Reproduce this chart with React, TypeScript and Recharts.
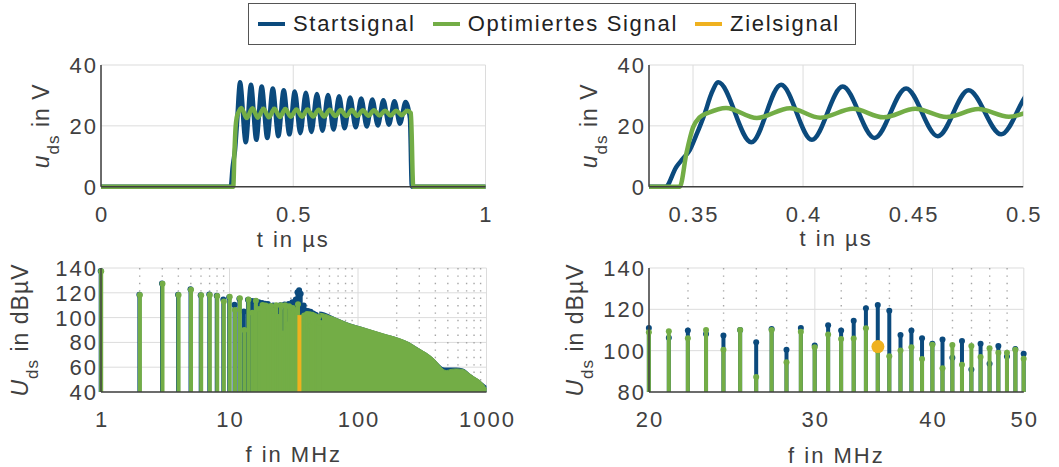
import React from "react";
import { ComposedChart, Line, Bar, Area, Scatter, XAxis, YAxis, CartesianGrid } from "recharts";

const BLUE = "#0b4a7d";
const GREEN = "#73ad46";
const ORANGE = "#efb11f";
const INK = "#404040";
const GRID = "#dcdcdc";
const DOTS = "#a6a6a6";
const FONT = "'Liberation Sans', Arial, Helvetica, sans-serif";
const AXIS_FS = 22;
const AXIS_LS = 2;

// ---- time signal (t in µs, u in V) ----
const startT = [0, 0.3375, 0.3424, 0.3454, 0.3485, 0.3515, 0.3553, 0.3583,
  0.3615, 0.3765, 0.39, 0.404, 0.418, 0.4325, 0.4468, 0.4612, 0.4752, 0.49, 0.504, 0.5184,
  0.5328, 0.5472, 0.5616, 0.576, 0.5904, 0.6048, 0.6192, 0.6336, 0.648, 0.6624, 0.6768,
  0.6912, 0.7056, 0.72, 0.7344, 0.7488, 0.7632, 0.7776, 0.792,
  0.8035, 0.8085, 1];
const startV = [0, 0, 6.5, 9.2, 12.0, 17.0, 24.0, 30.5,
  34.3, 14.6, 33.5, 15.4, 32.9, 16.0, 32.3, 16.6, 31.7, 17.2, 31.3, 17.6,
  30.9, 18.0, 30.5, 18.4, 30.1, 18.8, 29.7, 19.2, 29.3, 19.5, 29.0,
  19.8, 28.7, 20.1, 28.4, 20.4, 28.1, 20.7, 27.8,
  22.5, 0, 0];

const optT = [0, 0.344, 0.347, 0.35, 0.353, 0.357,
  0.365, 0.379, 0.394, 0.4078, 0.4227, 0.4365, 0.451, 0.4652, 0.4796, 0.4935, 0.5084, 0.5228,
  0.5372, 0.5516, 0.566, 0.5804, 0.5948, 0.6092, 0.6236, 0.638, 0.6524, 0.6668, 0.6812,
  0.6956, 0.71, 0.7244, 0.7388, 0.7532, 0.7676, 0.782, 0.7964,
  0.806, 0.812, 1];
const optV = [0, 0, 11.0, 19.5, 22.8, 24.3,
  25.9, 22.6, 25.8, 22.7, 25.6, 22.8, 25.6, 22.9, 25.5, 23.0, 25.4, 23.0,
  25.4, 23.1, 25.3, 23.1, 25.3, 23.2, 25.2, 23.2, 25.2, 23.3, 25.1,
  23.3, 25.1, 23.4, 25.0, 23.4, 25.0, 23.5, 25.0,
  24.2, 0, 0];

// ---- spectrum: harmonics of 1 MHz (f in MHz, U in dBµV) ----
const harmF = [1, 2, 3, 4, 5, 6, 7, 8, 9, 10, 11, 12, 13, 14, 15, 16, 17, 18, 19, 20,
  21, 22, 23, 24, 25, 26, 27, 28, 29, 30, 31, 32, 33, 34, 35, 36, 37, 38, 39, 40,
  41, 42, 43, 44, 45, 46, 47, 48, 49, 50];
const startDb = [137.5, 118.5, 127.5, 118.5, 122.8, 118.0, 118.6, 117.6, 114.6, 116.4,
  110.4, 115.3, 105.0, 114.3, 113.3, 113.4, 112.3, 111.8, 111.2, 111.0,
  106.2, 109.7, 108.1, 107.3, 110.0, 104.1, 110.5, 100.5, 111.0, 102.5,
  112.3, 109.7, 114.5, 120.5, 122.1, 119.3, 107.6, 109.8, 106.0, 103.4,
  105.4, 96.6, 104.7, 90.9, 103.4, 93.7, 102.2, 97.2, 100.8, 98.5];
const optDb = [137.3, 118.2, 127.3, 118.2, 122.4, 118.0, 118.3, 117.4, 113.0, 116.8,
  106.2, 115.6, 90.0, 114.6, 104.0, 113.6, 107.0, 110.2, 109.8, 108.9,
  109.4, 106.0, 110.0, 100.4, 110.0, 87.2, 110.0, 94.4, 109.2, 101.7,
  107.8, 105.7, 105.9, 110.8, 100.0, 97.3, 100.1, 101.7, 96.0, 102.9,
  91.5, 102.8, 93.2, 102.3, 96.9, 101.2, 99.0, 99.0, 100.4, 96.1];

// above 50 MHz the stems merge into a solid envelope
const tailF = [50, 55, 60, 64, 70, 86, 100, 117, 157, 212, 250, 285, 320, 362, 400, 433,
  460, 488, 530, 583, 657, 741, 810, 886, 950, 1000];
const tailStart = [105.0, 104.2, 102.5, 101.0, 99.2, 95.4, 93.4, 91.3, 87.2, 83.2, 80.1, 76.4,
  73.3, 69.7, 65.8, 62.0, 60.0, 59.8, 59.8, 59.7, 58.9, 55.0, 52.1, 49.5, 46.8, 45.0];
const tailOpt = [103.5, 102.8, 101.5, 100.4, 98.8, 95.0, 93.0, 91.0, 86.9, 82.9, 79.8, 76.1,
  73.0, 69.4, 65.5, 61.3, 58.3, 57.3, 58.2, 58.6, 58.1, 54.6, 51.8, 49.2, 46.0, 42.4];

const targetF = [35];
const targetDb = [102];
const specFloor = 40;

const startData = startT.map((t, i) => ({ t, v: startV[i] }));
const optData = optT.map((t, i) => ({ t, v: optV[i] }));
const stemRows = harmF.map((f, i) => ({ f, start: startDb[i], opt: optDb[i] }));
const stemRowsZoom = stemRows.filter((r) => r.f >= 20);
const tailStartData = tailF.map((f, i) => ({ f, v: tailStart[i] }));
const tailOptData = tailF.map((f, i) => ({ f, v: tailOpt[i] }));
const targetStem = [{ f: targetF[0], v: specFloor }, { f: targetF[0], v: targetDb[0] }];
const targetDot = targetF.map((f, i) => ({ f, v: targetDb[i] }));

const minorLog = [2, 3, 4, 5, 6, 7, 8, 9, 20, 30, 40, 50, 60, 70, 80, 90, 200, 300, 400, 500, 600, 700, 800, 900];
const minorZoom = [22, 24, 26, 28, 32, 34, 36, 38, 42, 44, 46, 48];

type Box = { px: number; py: number; pw: number; ph: number };
const WL = 100, MT = 20, MR = 50, HB = 90;
const TL: Box = { px: 100.7, py: 65, pw: 384.5, ph: 121.7 };
const TR: Box = { px: 649.3, py: 65, pw: 374.2, ph: 121.7 };
const BL: Box = { px: 100.7, py: 267.7, pw: 385.5, ph: 124 };
const BR: Box = { px: 649.2, py: 267.7, pw: 374.8, ph: 124 };

const size = (b: Box) => ({ width: WL + b.pw + MR, height: MT + b.ph + HB });
const margin = { top: MT, right: MR, left: 0, bottom: 0 };

const XLabel = (p: any) => (
  <text x={p.x + AXIS_LS / 2} y={p.y + 35} textAnchor="middle" fill={INK} fontSize={AXIS_FS}
    fontFamily={FONT} letterSpacing={AXIS_LS}>
    {p.payload.value}
  </text>
);
const YLabel = (p: any) => (
  <text x={p.x - 3} y={p.y} dy="0.36em" textAnchor="end" fill={INK} fontSize={AXIS_FS}
    fontFamily={FONT} letterSpacing={AXIS_LS}>
    {p.payload.value}
  </text>
);
// inward tick marks on top and bottom edge
const xMarks = (ph: number, majors: number[]) => (p: any) => {
  const len = majors.includes(p.payload.value) ? 6 : 3.5;
  return (
    <g stroke={INK} strokeWidth={1.3}>
      <line x1={p.x} x2={p.x} y1={p.y} y2={p.y + len} />
      <line x1={p.x} x2={p.x} y1={p.y + ph} y2={p.y + ph - len} />
    </g>
  );
};
// inward tick marks on right and left edge
const yMarks = (pw: number) => (p: any) => (
  <g stroke={INK} strokeWidth={1.3}>
    <line x1={p.x} x2={p.x - 6} y1={p.y} y2={p.y} />
    <line x1={p.x - pw} x2={p.x - pw + 6} y1={p.y} y2={p.y} />
  </g>
);

function frameAxes(o: {
  box: Box; xKey: string; xDomain: number[]; xTicks: number[]; xMinor?: number[];
  log?: boolean; clip?: boolean; yDomain: number[]; yTicks: number[];
}) {
  const minor = o.xMinor ?? [];
  const scale = o.log ? "log" : "linear";
  const frame = { stroke: INK, strokeWidth: 1.5 };
  return [
    <CartesianGrid key="grid" xAxisId="x" yAxisId="y" stroke={GRID} strokeWidth={1} />,
    minor.length > 0 && (
      <CartesianGrid key="minor" xAxisId="x" yAxisId="y" horizontal={false} verticalValues={minor}
        stroke={DOTS} strokeWidth={1.4} strokeDasharray="1.4 6" />
    ),
    <XAxis key="x" xAxisId="x" dataKey={o.xKey} type="number" scale={scale} domain={o.xDomain}
      ticks={o.xTicks} allowDataOverflow={!!o.clip} interval={0} height={HB} tickSize={0} tickMargin={0}
      tickLine={false} axisLine={frame} tick={XLabel} />,
    <XAxis key="t" xAxisId="t" orientation="top" type="number" scale={scale} domain={o.xDomain}
      ticks={[...o.xTicks, ...minor]} interval={0} height={0} tickSize={0} tickMargin={0}
      tickLine={false} axisLine={frame} tick={xMarks(o.box.ph, o.xTicks)} />,
    <YAxis key="y" yAxisId="y" type="number" domain={o.yDomain} ticks={o.yTicks} interval={0}
      width={WL} tickSize={0} tickMargin={0} tickLine={false} axisLine={frame} tick={YLabel} />,
    <YAxis key="r" yAxisId="r" orientation="right" type="number" domain={o.yDomain} ticks={o.yTicks}
      interval={0} width={0} tickSize={0} tickMargin={0} tickLine={false} axisLine={frame}
      tick={yMarks(o.box.pw)} />,
  ];
}

// stem = thin bar with a filled marker on top
const stem = (color: string) => (p: any) => {
  if (p.height == null || !isFinite(p.y)) return <g />;
  const cx = p.x + p.width / 2;
  return (
    <g>
      <rect x={cx - 2} y={p.y} width={4} height={Math.max(p.height, 0)} fill={color} />
      <circle cx={cx} cy={p.y} r={3} fill={color} />
    </g>
  );
};

function Titles({ box, xTitle, xGap, yGap, sym, unit }: {
  box: Box; xTitle: string; xGap: number; yGap: number; sym: string; unit: string;
}) {
  const s = size(box);
  return (
    <svg width={s.width} height={s.height} style={{ position: "absolute", left: 0, top: 0, overflow: "visible", pointerEvents: "none" }}>
      <text x={WL + box.pw / 2} y={MT + box.ph + xGap} textAnchor="middle" fill={INK}
        fontSize={AXIS_FS} fontFamily={FONT} letterSpacing={AXIS_LS}>{xTitle}</text>
      <text transform={`translate(${WL - yGap},${MT + box.ph / 2}) rotate(-90)`} textAnchor="middle"
        fill={INK} fontSize={AXIS_FS + 1} fontFamily={FONT} letterSpacing={1}>
        <tspan fontStyle="italic">{sym}</tspan>
        <tspan fontSize={17} dy={10}>ds</tspan>
        <tspan dy={-10}>{" in " + unit}</tspan>
      </text>
    </svg>
  );
}

function Panel({ box, children, ...t }: any) {
  return (
    <div style={{ position: "absolute", left: box.px - WL, top: box.py - MT }}>
      {children}
      <Titles box={box} {...t} />
    </div>
  );
}

const legendItems = [
  { name: "Startsignal", color: BLUE },
  { name: "Optimiertes Signal", color: GREEN },
  { name: "Zielsignal", color: ORANGE },
];

export default function App() {
  return (
    <div style={{ position: "absolute", left: 0, top: 0, width: 1059, height: 467, overflow: "hidden", background: "#fff" }}>
      <div style={{
        position: "absolute", left: 248, top: 3, width: 608, height: 42, boxSizing: "border-box",
        border: "1.3px solid #555", background: "#fff", display: "flex", alignItems: "center",
        paddingLeft: 9, fontFamily: FONT, fontSize: 22, letterSpacing: 1.7, color: "#222",
        whiteSpace: "nowrap",
      }}>
        {legendItems.map((it) => (
          <span key={it.name} style={{ display: "flex", alignItems: "center", marginRight: 17 }}>
            <span style={{ display: "inline-block", width: 27, height: 4, background: it.color, marginRight: 8 }} />
            {it.name}
          </span>
        ))}
      </div>

      <Panel box={TL} xTitle="t in µs" xGap={60} yGap={52} sym="u" unit="V">
        <ComposedChart {...size(TL)} margin={margin}>
          {frameAxes({ box: TL, xKey: "t", xDomain: [0, 1], xTicks: [0, 0.5, 1], yDomain: [0, 40], yTicks: [0, 20, 40] })}
          <Line xAxisId="x" yAxisId="y" data={startData} dataKey="v" type="monotone" stroke={BLUE}
            strokeWidth={4.5} dot={false} activeDot={false} isAnimationActive={false} />
          <Line xAxisId="x" yAxisId="y" data={optData} dataKey="v" type="monotone" stroke={GREEN}
            strokeWidth={4.5} dot={false} activeDot={false} isAnimationActive={false} />
        </ComposedChart>
      </Panel>

      <Panel box={TR} xTitle="t in µs" xGap={59} yGap={52} sym="u" unit="V">
        <ComposedChart {...size(TR)} margin={margin}>
          {frameAxes({ box: TR, xKey: "t", xDomain: [0.33, 0.5], xTicks: [0.35, 0.4, 0.45, 0.5], clip: true, yDomain: [0, 40], yTicks: [0, 20, 40] })}
          <Line xAxisId="x" yAxisId="y" data={startData} dataKey="v" type="monotone" stroke={BLUE}
            strokeWidth={4.5} dot={false} activeDot={false} isAnimationActive={false} />
          <Line xAxisId="x" yAxisId="y" data={optData} dataKey="v" type="monotone" stroke={GREEN}
            strokeWidth={4.5} dot={false} activeDot={false} isAnimationActive={false} />
        </ComposedChart>
      </Panel>

      <Panel box={BL} xTitle="f in MHz" xGap={70} yGap={73} sym="U" unit="dBµV">
        <ComposedChart {...size(BL)} margin={margin} data={stemRows} barGap={-4}>
          {frameAxes({ box: BL, xKey: "f", xDomain: [1, 1000], xTicks: [1, 10, 100, 1000], xMinor: minorLog, log: true, yDomain: [40, 140], yTicks: [40, 60, 80, 100, 120, 140] })}
          <Area xAxisId="x" yAxisId="y" data={tailStartData} dataKey="v" type="monotone" stroke="none"
            fill={BLUE} fillOpacity={1} dot={false} activeDot={false} isAnimationActive={false} />
          <Area xAxisId="x" yAxisId="y" data={tailOptData} dataKey="v" type="monotone" stroke={GREEN}
            fill={GREEN} fillOpacity={1} strokeWidth={1} dot={false} activeDot={false} isAnimationActive={false} />
          <Bar xAxisId="x" yAxisId="y" dataKey="start" barSize={4} shape={stem(BLUE)} isAnimationActive={false} />
          <Bar xAxisId="x" yAxisId="y" dataKey="opt" barSize={4} shape={stem(GREEN)} isAnimationActive={false} />
          <Line xAxisId="x" yAxisId="y" data={targetStem} dataKey="v" stroke={ORANGE} strokeWidth={4}
            dot={false} activeDot={false} isAnimationActive={false} />
        </ComposedChart>
      </Panel>

      <Panel box={BR} xTitle="f in MHz" xGap={71} yGap={66} sym="U" unit="dBµV">
        <ComposedChart {...size(BR)} margin={margin} data={stemRowsZoom} barGap={-4}>
          {frameAxes({ box: BR, xKey: "f", xDomain: [20, 50], xTicks: [20, 30, 40, 50], xMinor: minorZoom, log: true, yDomain: [80, 140], yTicks: [80, 100, 120, 140] })}
          <Bar xAxisId="x" yAxisId="y" dataKey="start" barSize={4} shape={stem(BLUE)} isAnimationActive={false} />
          <Bar xAxisId="x" yAxisId="y" dataKey="opt" barSize={4} shape={stem(GREEN)} isAnimationActive={false} />
          <Scatter xAxisId="x" yAxisId="y" data={targetDot} dataKey="v" isAnimationActive={false}
            shape={(p: any) => <circle cx={p.cx} cy={p.cy} r={6.5} fill={ORANGE} />} />
        </ComposedChart>
      </Panel>
    </div>
  );
}
